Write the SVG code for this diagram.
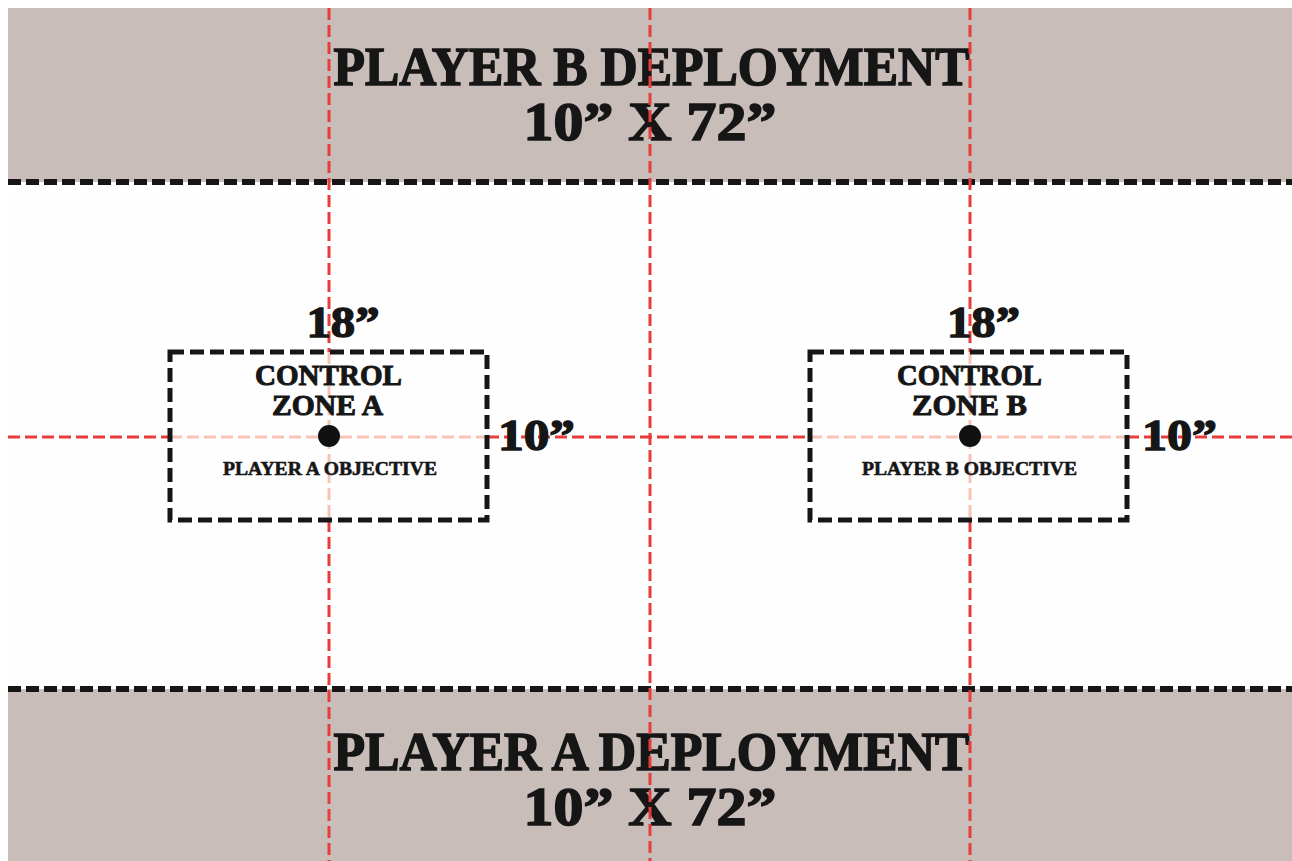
<svg xmlns="http://www.w3.org/2000/svg" width="1292" height="861" viewBox="0 0 1292 861">
<style>
.zone-bg{fill:#c9bdb9}
.boundary{stroke:#161616;stroke-width:6;stroke-dasharray:13 5;fill:none}
.box{stroke:#161616;stroke-width:5;stroke-dasharray:14 6;fill:none}
.red{stroke:#e63d3a;stroke-width:3;stroke-dasharray:12 5;fill:none}
.pale{stroke:#f6c3b4;stroke-width:3;stroke-dasharray:12 5;fill:none}
text{font-family:"Liberation Serif","Times New Roman",serif;font-weight:bold;fill:#161616;stroke:#161616;text-anchor:middle}
.big{font-size:54px;stroke-width:1.6px}
.mid{font-size:44px;stroke-width:1.4px}
.zl{font-size:30px;stroke-width:1px}
.sm{font-size:19px;stroke-width:0.6px}
</style>
<rect x="0" y="0" width="1292" height="861" fill="#ffffff"/>
<rect x="8" y="8" width="1284" height="853" fill="#fefefe"/>
<g id="deploy-b">
<rect class="zone-bg" x="8" y="8" width="1284" height="174"/>
<text class="big" x="651.5" y="85" textLength="636" lengthAdjust="spacingAndGlyphs">PLAYER B DEPLOYMENT</text>
<text class="big" x="650" y="140" textLength="253" lengthAdjust="spacingAndGlyphs">10” X 72”</text>
</g>
<g id="deploy-a">
<rect class="zone-bg" x="8" y="689" width="1284" height="172"/>
<text class="big" x="651.5" y="770" textLength="636" lengthAdjust="spacingAndGlyphs">PLAYER A DEPLOYMENT</text>
<text class="big" x="650" y="825" textLength="253" lengthAdjust="spacingAndGlyphs">10” X 72”</text>
</g>
<g id="connectors">
<line class="boundary" x1="8" y1="182" x2="1292" y2="182"/>
<line class="boundary" x1="8" y1="689" x2="1292" y2="689"/>
<line class="pale" x1="170" y1="437" x2="487" y2="437"/>
<line class="pale" x1="810" y1="437" x2="1127" y2="437"/>
<line class="pale" x1="329" y1="352" x2="329" y2="520"/>
<line class="pale" x1="970" y1="352" x2="970" y2="520"/>
<line class="red" x1="8" y1="437" x2="170" y2="437"/>
<line class="red" x1="487" y1="437" x2="810" y2="437"/>
<line class="red" x1="1127" y1="437" x2="1292" y2="437"/>
<line class="red" x1="329" y1="8" x2="329" y2="352"/>
<line class="red" x1="329" y1="520" x2="329" y2="861"/>
<line class="red" x1="970" y1="8" x2="970" y2="352"/>
<line class="red" x1="970" y1="520" x2="970" y2="861"/>
<line class="red" x1="650" y1="8" x2="650" y2="861"/>
</g>
<g id="zone-a">
<rect class="box" x="170" y="352" width="317" height="168"/>
<text class="mid" x="343" y="337" textLength="73" lengthAdjust="spacingAndGlyphs">18”</text>
<text class="zl" x="328.5" y="385" textLength="147" lengthAdjust="spacingAndGlyphs">CONTROL</text>
<text class="zl" x="327.5" y="415" textLength="111" lengthAdjust="spacingAndGlyphs">ZONE A</text>
<circle cx="329" cy="436" r="11" fill="#111"/>
<text class="sm" x="330" y="475" textLength="214" lengthAdjust="spacingAndGlyphs">PLAYER A OBJECTIVE</text>
<text class="mid" x="536.5" y="450" textLength="77" lengthAdjust="spacingAndGlyphs">10”</text>
</g>
<g id="zone-b">
<rect class="box" x="810" y="352" width="317" height="168"/>
<text class="mid" x="983.5" y="337" textLength="73" lengthAdjust="spacingAndGlyphs">18”</text>
<text class="zl" x="969.5" y="385" textLength="145" lengthAdjust="spacingAndGlyphs">CONTROL</text>
<text class="zl" x="969.5" y="415" textLength="115" lengthAdjust="spacingAndGlyphs">ZONE B</text>
<circle cx="970" cy="436" r="11" fill="#111"/>
<text class="sm" x="969.5" y="475" textLength="215" lengthAdjust="spacingAndGlyphs">PLAYER B OBJECTIVE</text>
<text class="mid" x="1179.5" y="450" textLength="75" lengthAdjust="spacingAndGlyphs">10”</text>
</g>
</svg>
